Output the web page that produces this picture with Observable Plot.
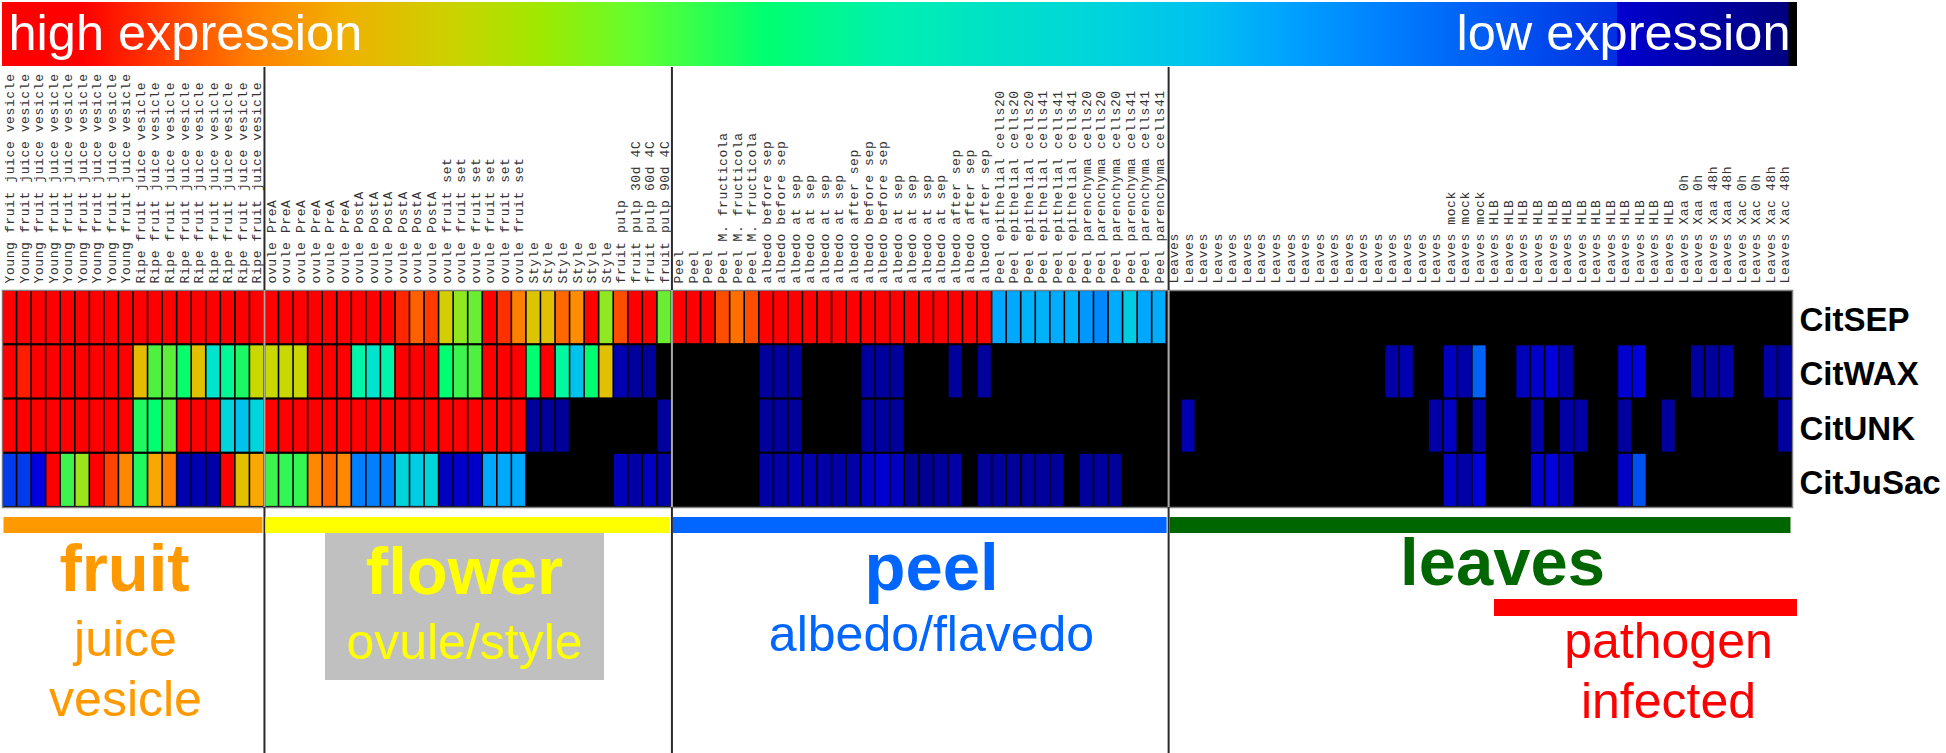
<!DOCTYPE html>
<html>
<head>
<meta charset="utf-8">
<script src="https://cdn.jsdelivr.net/npm/d3@7"></script>
<script src="https://cdn.jsdelivr.net/npm/@observablehq/plot@0.6"></script>
<style>
html,body{margin:0;padding:0;background:#fff}
svg [aria-label="x-axis tick label"] text{letter-spacing:.6px}
</style>
</head>
<body>
<div id="chart"></div>
<script>
const _ = null;
const genes = ["CitSEP","CitWAX","CitUNK","CitJuSac"];

const rep = (label, n) => Array(n).fill(label);
const sampleLabels = [
  ...rep("Young fruit juice vesicle",9), ...rep("Ripe fruit juice vesicle",9),
  ...rep("ovule PreA",6), ...rep("ovule PostA",6), ...rep("ovule fruit set",6), ...rep("Style",6),
  "fruit pulp","fruit pulp 30d 4C","fruit pulp 60d 4C","fruit pulp 90d 4C",
  ...rep("Peel",3), ...rep("Peel M. fructicola",3),
  ...rep("albedo before sep",2), ...rep("albedo at sep",4), "albedo after sep",
  ...rep("albedo before sep",2), ...rep("albedo at sep",4), ...rep("albedo after sep",3),
  ...rep("Peel epithelial cells20",3), ...rep("Peel epithelial cells41",3),
  ...rep("Peel parenchyma cells20",3), ...rep("Peel parenchyma cells41",3),
  ...rep("Leaves",19), ...rep("Leaves mock",3), ...rep("Leaves HLB",13),
  "Leaves Xaa 0h","Leaves Xaa 0h","Leaves Xaa 48h","Leaves Xaa 48h",
  "Leaves Xac 0h","Leaves Xac 0h","Leaves Xac 48h","Leaves Xac 48h"
];

// expression level of each sample (100 = highest, 0 = lowest, null = not detected)
const citSEP = [
  100,100,100,100,100,100,100,100,100,100,100,100,100,100,100,100,100,100,
  100,100,100,100,100,100,100,100,100,96,90,94,72,65,62,100,95,86,74,75,89,84,100,65,92,100,100,62,
  100,100,100,92,88,92,100,100,100,100,100,100,100,100,100,100,100,100,100,100,100,100,
  25,25,27,27,26,27,23,21,26,34,25,26,
  _,_,_,_,_,_,_,_,_,_,_,_,_,_,_,_,_,_,_,_,_,_,_,_,_,_,_,_,_,_,_,_,_,_,_,_,_,_,_,_,_,_,_
];
const citWAX = [
  100,97,100,100,100,100,100,100,100,76,60,61,51,75,39,46,54,70,
  70,70,70,100,100,100,44,39,44,100,100,100,50,58,60,100,100,100,50,100,45,31,50,75,5,3,3,_,
  _,_,_,_,_,_,3,3,3,_,_,_,_,3,3,3,_,_,_,3,_,3,_,_,_,_,_,_,_,_,_,_,_,_,
  _,_,_,_,_,_,_,_,_,_,_,_,_,_,_,4,5,_,_,7,4,17,_,_,6,8,10,4,_,_,_,9,10,_,_,_,3,3,4,_,_,4,3
];
const citUNK = [
  100,100,100,100,100,100,100,100,100,55,50,60,100,100,100,36,31,36,
  100,100,100,100,100,100,100,100,100,100,100,100,100,100,100,100,100,100,3,3,3,_,_,_,_,_,_,3,
  _,_,_,_,_,_,3,3,3,_,_,_,_,3,3,3,_,_,_,_,_,_,_,_,_,_,_,_,_,_,_,_,_,_,
  _,5,_,_,_,_,_,_,_,_,_,_,_,_,_,_,_,_,4,7,_,4,_,_,_,4,_,4,4,_,_,3,_,_,3,_,_,_,_,_,_,_,3
];
const citJuSac = [
  14,14,11,100,58,66,100,93,85,55,80,87,5,5,4,100,75,80,
  58,57,57,85,90,85,20,20,20,36,34,36,7,8,8,25,25,25,_,_,_,_,_,_,6,4,7,4,
  _,_,_,_,_,_,4,4,5,5,4,4,4,7,9,7,2,2,3,4,_,3,3,3,3,3,3,_,3,3,3,_,_,_,
  _,_,_,_,_,_,_,_,_,_,_,_,_,_,_,_,_,_,_,8,4,10,_,_,_,8,10,5,_,_,_,8,15,_,_,_,_,_,_,_,_,_,_
];
const rows = [citSEP, citWAX, citUNK, citJuSac];

const levelStops = [0,5,10,11,15,20,25,30,35,40,45,50,55,60,65,70,75,80,85,90,95,100];
const levelColors = ["#000080","#0000b0","#0000d8","#0000e0","#0050f0","#0080ff","#00a8ff","#00c0f0","#00d0e0","#00e8c8","#00f8a0","#00ff70","#20f860","#50f040","#90e820","#c8d800","#e0c000","#f8a800","#ff8800","#ff6000","#ff3000","#ff0000"];

// colour ramp of the legend band: offset along the band, colour
const rampOffsets = [0,.045,.14,.19,.255,.30,.354,.425,.496,.556,.599,.67,.72,.769,.847,.9,.9,.955,.995,.9955,1];
const rampColors = ["#ff0000","#ff0000","#ff8000","#f0b000","#c8d400","#a0e800","#60ff30","#00ff70","#00f0b0","#00e0c8","#00d8d8","#00c0f0","#00a0ff","#0080ff","#0050f0","#0030e0","#0000d0","#0000a0","#000080","#000000","#000000"];

const sections = [
  {name:"fruit",  start:0,  end:18,  color:"#ff9900"},
  {name:"flower", start:18, end:46,  color:"#ffff00"},
  {name:"peel",   start:46, end:80.13,  color:"#0066ff"},
  {name:"leaves", start:80.13, end:123, color:"#006600"}
];
const dividers = [18,46,80.13];

const W = 1946, H = 753, L = 2, R = 1792, T = 290, B = 507;
const colAt = px => (px - L) / ((R - L) / 123);
const rowAt = py => (py - T) / ((B - T) / 4);

const titlesStart = [{t:"high expression", x:8, y:49, c:"#fff"}];
const titlesEnd = [{t:"low expression", x:1790, y:49, c:"#fff"}];
const headings = [
  {t:"fruit", x:124, y:590, c:"#ff9900"},
  {t:"flower", x:464, y:593, c:"#ffff00"},
  {t:"peel", x:931, y:589, c:"#0066ff"},
  {t:"leaves", x:1502, y:584, c:"#006600"}
];
const notes = [
  {t:"juice", x:125, y:655, c:"#ff9900"},
  {t:"vesicle", x:125, y:715, c:"#ff9900"},
  {t:"ovule/style", x:464, y:658, c:"#ffff00"},
  {t:"albedo/flavedo", x:931, y:650, c:"#0066ff"},
  {t:"pathogen", x:1668, y:657, c:"#ff0000"},
  {t:"infected", x:1668, y:717, c:"#ff0000"}
];

const cells = rows.flatMap((vals, row) => vals.map((level, col) => ({row, col, level})).filter(d => d.level !== null));

const rampDefs = () => {
  const defs = d3.create("svg:defs");
  const g = defs.append("linearGradient").attr("id","ramp");
  rampOffsets.forEach((o,i) => g.append("stop").attr("offset",o).attr("stop-color",rampColors[i]));
  return defs.node();
};
const textOpts = {x:d=>colAt(d.x), y:d=>rowAt(d.y), text:"t", fill:"c", lineAnchor:"bottom", fontFamily:"Liberation Sans"};

const chart = Plot.plot({
  width: W, height: H,
  marginTop: T, marginBottom: H - B, marginLeft: L, marginRight: W - R,
  style: {background:"#fff", fontFamily:"Liberation Sans"},
  x: {domain:[0,123]},
  y: {domain:[0,4], reverse:true},
  color: {type:"linear", domain:levelStops, range:levelColors, legend:false},
  marks: [
    rampDefs,
    Plot.frame({fill:"#000", stroke:"#808080", strokeWidth:1.5}),
    Plot.rect(cells, {x1:"col", x2:d=>d.col+1, y1:"row", y2:d=>d.row+1, fill:"level", insetLeft:.8, insetRight:.8, insetTop:1.1, insetBottom:1.1}),
    // section dividers
    Plot.ruleX(dividers, {x:d=>d, y1:rowAt(67), y2:rowAt(753), stroke:"#2a2a2a", strokeWidth:2}),
    Plot.ruleX(dividers, {x:d=>d, y1:0, y2:4, stroke:"#a8a8a8", strokeWidth:2}),
    // legend band
    Plot.rect([0], {x1:colAt(2), x2:colAt(1797), y1:rowAt(2), y2:rowAt(66), fill:"url(#ramp)"}),
    // section bars
    Plot.rect(sections, {x1:"start", x2:"end", y1:rowAt(517), y2:rowAt(533), fill:"color", insetLeft:1.5, insetRight:1.5}),
    // grey backing of flower text, red bar of infected leaves
    Plot.rect([0], {x1:colAt(325), x2:colAt(604), y1:rowAt(533), y2:rowAt(680), fill:"#c0c0c0"}),
    Plot.rect([0], {x1:colAt(1494), x2:colAt(1797), y1:rowAt(599), y2:rowAt(616), fill:"#ff0000"}),
    Plot.text(titlesStart, {...textOpts, textAnchor:"start", fontSize:50.5}),
    Plot.text(titlesEnd, {...textOpts, textAnchor:"end", fontSize:50.5}),
    Plot.text(headings, {...textOpts, textAnchor:"middle", fontSize:67, fontWeight:"bold"}),
    Plot.text(notes, {...textOpts, textAnchor:"middle", fontSize:50}),
    Plot.axisX(sampleLabels.map((_,i)=>i+.5), {
      anchor:"top", label:null, tickSize:0, tickPadding:7, tickRotate:-90,
      tickFormat:v=>sampleLabels[v-.5], fontSize:13, fontFamily:"Liberation Mono", fill:"#333"
    }),
    Plot.axisY(genes.map((_,i)=>i+.5), {
      anchor:"right", label:null, tickSize:0, tickPadding:7, dy:3,
      tickFormat:v=>genes[v-.5], fontSize:33, fontWeight:"bold", fontFamily:"Liberation Sans", fill:"#000"
    })
  ]
});
document.getElementById("chart").append(chart);
</script>
</body>
</html>
